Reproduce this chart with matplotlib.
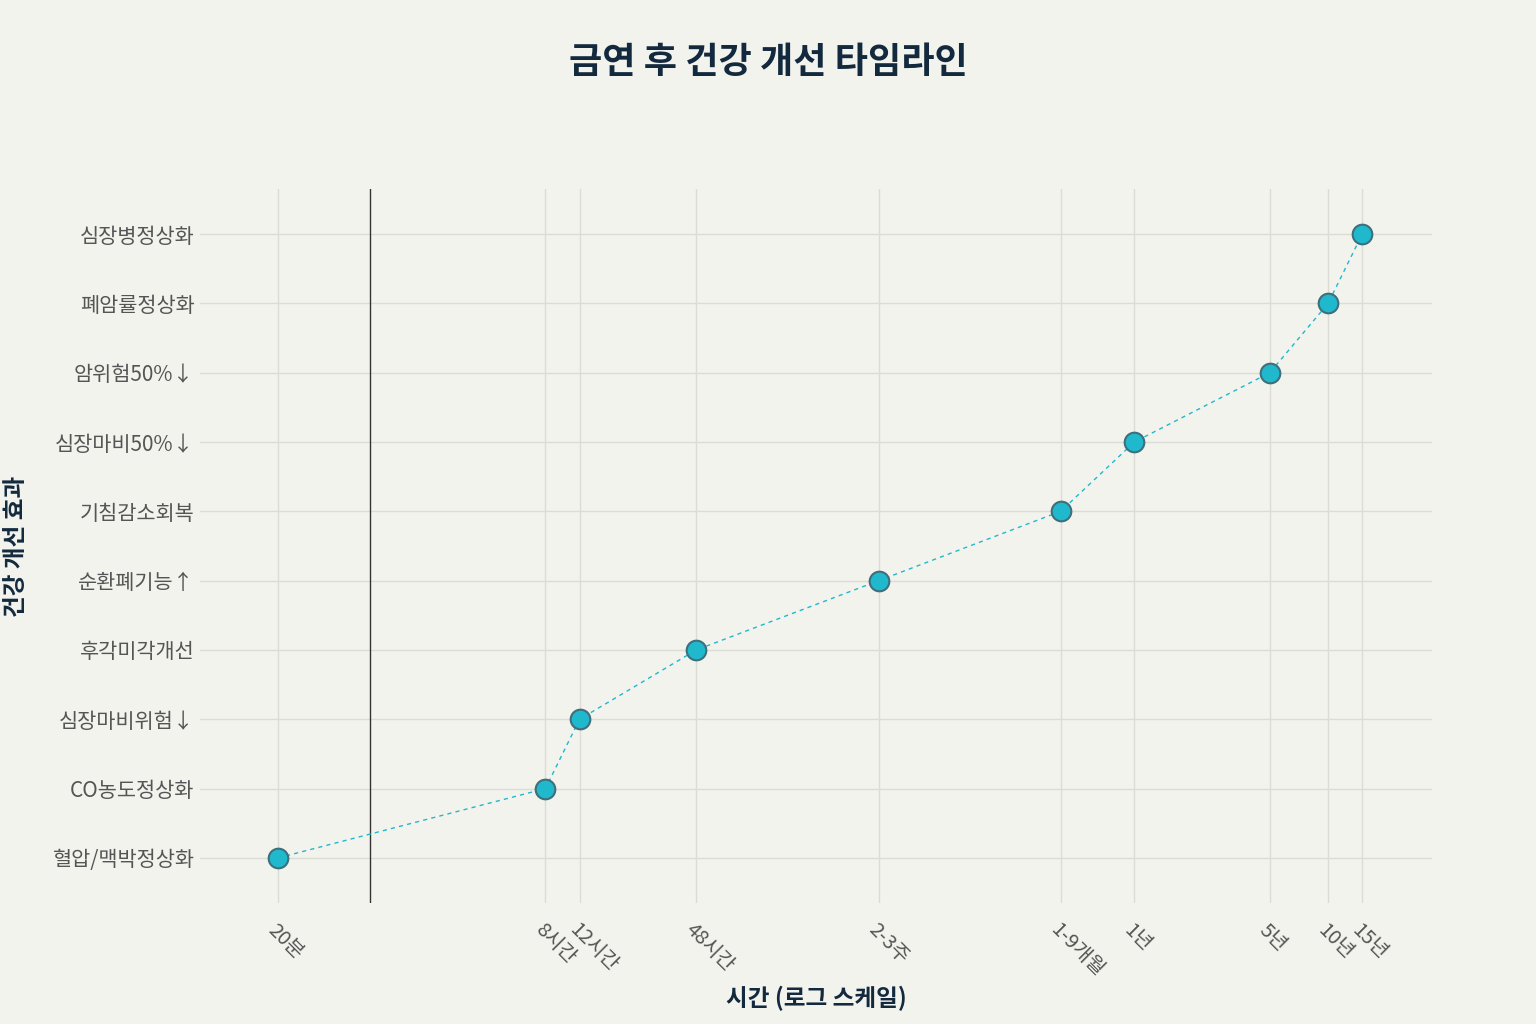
import numpy as np
import matplotlib
matplotlib.use("Agg")
import matplotlib.pyplot as plt

plt.rcParams['font.family'] = ['Noto Sans CJK KR', 'DejaVu Sans']

# data: time after quitting (hours) and effect
time_labels = ["20분", "8시간", "12시간", "48시간", "2-3주", "1-9개월", "1년", "5년", "10년", "15년"]
time_hours = [1/3, 8, 12, 48, 420, 3650, 8760, 43800, 87600, 131400]
effects = ["혈압/맥박정상화", "CO농도정상화", "심장마비위험↓", "후각미각개선", "순환폐기능↑",
           "기침감소회복", "심장마비50%↓", "암위험50%↓", "폐암률정상화", "심장병정상화"]
marker_line_x = 1  # vertical reference line (1 hour)

bg = "#f3f3ee"
fig = plt.figure(figsize=(15.36, 10.24), dpi=100, facecolor=bg)
ax = fig.add_axes([200/1536, 1 - 903/1024, (1432-200)/1536, (903-189)/1024])
ax.set_facecolor(bg)

y_pos = np.arange(len(effects))
ax.plot(time_hours, y_pos, linestyle=(0, (3, 3)), color="#1fb8cd", linewidth=1, zorder=3)
ax.scatter(time_hours, y_pos, s=200, color="#1fb8cd", edgecolor="#3f6f7a",
           linewidth=1.5, zorder=4)
ax.axvline(marker_line_x, color="#333333", linewidth=1, zorder=2)

ax.set_xscale("log")
ax.set_xlim(0.132, 301000)
ax.set_ylim(-0.65, 9.65)
ax.set_xticks(time_hours)
ax.set_xticklabels(time_labels, rotation=-45, ha="left", va="top",
                   rotation_mode="anchor", fontsize=14.5, color="#555555")
ax.xaxis.set_minor_locator(matplotlib.ticker.NullLocator())
ax.set_yticks(y_pos)
ax.set_yticklabels(effects, fontsize=15, color="#555555")
ax.tick_params(axis="y", length=0, pad=4)
ax.tick_params(axis="x", length=0, pad=12)

ax.grid(True, color="#dcdcd6", linewidth=1, zorder=0)
ax.set_axisbelow(True)
for s in ax.spines.values():
    s.set_visible(False)

ax.set_xlabel("시간 (로그 스케일)", fontsize=17, fontweight="bold", color="#13293d")
ax.xaxis.set_label_coords(0.5, -(998 - 903) / 714, transform=ax.transAxes)
ax.xaxis.label.set_va("center")
ax.set_ylabel("건강 개선 효과", fontsize=17, fontweight="bold", color="#13293d")
ax.yaxis.set_label_coords(-(200 - 16) / 1232, 0.5)
ax.yaxis.label.set_va("center")
fig.text(0.5, 1 - 62/1024, "금연 후 건강 개선 타임라인", ha="center", va="center",
         fontsize=26, fontweight="bold", color="#13293d")

fig.savefig("out.png", dpi=100, facecolor=bg)
